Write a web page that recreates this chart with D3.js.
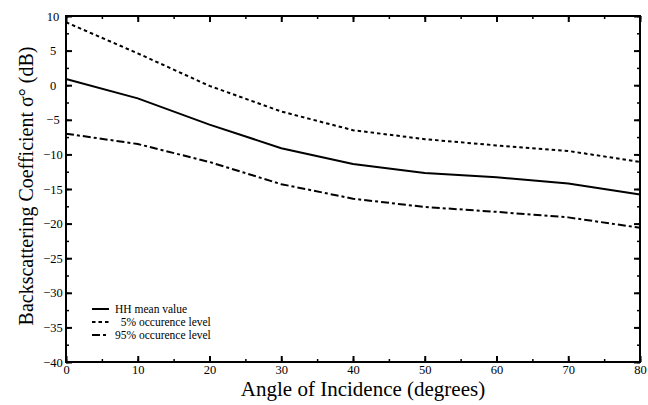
<!DOCTYPE html>
<html>
<head>
<meta charset="utf-8">
<script src="https://cdn.jsdelivr.net/npm/d3@7"></script>
<style>
  body { margin: 0; background: white; }
  svg text { font-family: "Liberation Serif", "Times New Roman", serif; }
</style>
</head>
<body>
<svg id="svg" width="648" height="405"></svg>
<script>
// angle of incidence (degrees)
const angles = [0, 10, 20, 30, 40, 50, 60, 70, 80];
// HH mean value (dB)
const meanValues = [0.9, -1.9, -5.7, -9.1, -11.4, -12.7, -13.3, -14.2, -15.8];
// 5% occurence level
const level5 = [9.1, 4.6, -0.1, -3.8, -6.5, -7.8, -8.7, -9.5, -11.1];
// 95% occurence level
const level95 = [-7.0, -8.5, -11.1, -14.3, -16.4, -17.6, -18.3, -19.1, -20.6];

const xTicks = [0, 10, 20, 30, 40, 50, 60, 70, 80];
const yTicks = [10, 5, 0, -5, -10, -15, -20, -25, -30, -35, -40];

const series = [
  { name: "HH mean value", values: meanValues, dash: null },
  { name: "\u00a0\u00a05% occurence level", values: level5, dash: "3.5,3" },
  { name: "95% occurence level", values: level95, dash: "8,3,3,3" },
];

const margin = { left: 66, right: 8, top: 16, bottom: 43 };
const W = 648, H = 405;
const svg = d3.select("#svg");

const x = d3.scaleLinear().domain([0, 80]).range([margin.left, W - margin.right]);
const y = d3.scaleLinear().domain([-40, 10]).range([H - margin.bottom, margin.top]);

const g = svg.append("g");

// 目盛り（内向き）
const minorX = d3.range(0, 81, 5);
const minorY = d3.range(-40, 10.1, 2.5);

// 下の軸
g.append("g")
  .attr("transform", `translate(0,${y(-40)})`)
  .call(d3.axisBottom(x).tickValues(minorX).tickSize(-3).tickFormat(""))
  .call(a => a.select(".domain").remove())
  .selectAll("line").attr("stroke-width", 1.5);
g.append("g")
  .attr("transform", `translate(0,${y(-40)})`)
  .call(d3.axisBottom(x).tickValues(xTicks).tickSize(-6).tickPadding(3))
  .call(a => a.select(".domain").remove())
  .call(a => a.selectAll("line").attr("stroke-width", 2))
  .call(a => a.selectAll("text").attr("font-size", 12.5).attr("fill", "black"));

// 上の軸
g.append("g")
  .attr("transform", `translate(0,${y(10)})`)
  .call(d3.axisTop(x).tickValues(minorX).tickSize(-3).tickFormat(""))
  .call(a => a.select(".domain").remove())
  .selectAll("line").attr("stroke-width", 1.5);
g.append("g")
  .attr("transform", `translate(0,${y(10)})`)
  .call(d3.axisTop(x).tickValues(xTicks).tickSize(-6).tickFormat(""))
  .call(a => a.select(".domain").remove())
  .selectAll("line").attr("stroke-width", 2);

// 左の軸
g.append("g")
  .attr("transform", `translate(${x(0)},0)`)
  .call(d3.axisLeft(y).tickValues(minorY).tickSize(-3).tickFormat(""))
  .call(a => a.select(".domain").remove())
  .selectAll("line").attr("stroke-width", 1.5);
g.append("g")
  .attr("transform", `translate(${x(0)},0)`)
  .call(d3.axisLeft(y).tickValues(yTicks).tickSize(-6).tickPadding(14))
  .call(a => a.select(".domain").remove())
  .call(a => a.selectAll("line").attr("stroke-width", 2))
  .call(a => a.selectAll("text").attr("font-size", 12.5).attr("fill", "black")
    .attr("text-anchor", "middle").attr("x", -13));

// 右の軸
g.append("g")
  .attr("transform", `translate(${x(80)},0)`)
  .call(d3.axisRight(y).tickValues(minorY).tickSize(-3).tickFormat(""))
  .call(a => a.select(".domain").remove())
  .selectAll("line").attr("stroke-width", 1.5);
g.append("g")
  .attr("transform", `translate(${x(80)},0)`)
  .call(d3.axisRight(y).tickValues(yTicks).tickSize(-6).tickFormat(""))
  .call(a => a.select(".domain").remove())
  .selectAll("line").attr("stroke-width", 2);

// 枠
g.append("rect")
  .attr("x", x(0)).attr("y", y(10))
  .attr("width", x(80) - x(0)).attr("height", y(-40) - y(10))
  .attr("fill", "none").attr("stroke", "black").attr("stroke-width", 2);

// 線
const line = d3.line()
  .x((d, i) => x(angles[i]))
  .y(d => y(d));

series.forEach(s => {
  g.append("path")
    .datum(s.values)
    .attr("d", line)
    .attr("fill", "none")
    .attr("stroke", "black")
    .attr("stroke-width", 2)
    .attr("stroke-dasharray", s.dash);
});

// 凡例
const legend = g.append("g").attr("transform", "translate(92,309)");
series.forEach((s, i) => {
  const row = legend.append("g").attr("transform", `translate(0,${i * 13})`);
  row.append("line")
    .attr("x1", 0).attr("x2", 17)
    .attr("stroke", "black").attr("stroke-width", 2)
    .attr("stroke-dasharray", s.dash);
  row.append("text")
    .attr("x", 23).attr("y", 4)
    .attr("font-size", 11.5)
    .attr("xml:space", "preserve")
    .text(s.name);
});

// 軸ラベル
svg.append("text")
  .attr("x", 363)
  .attr("y", 396)
  .attr("text-anchor", "middle")
  .attr("font-size", 21)
  .text("Angle of Incidence (degrees)");

svg.append("text")
  .attr("transform", "translate(33,186) rotate(-90)")
  .attr("text-anchor", "middle")
  .attr("font-size", 20)
  .text("Backscattering Coefficient \u03c3\u00b0 (dB)");
</script>
</body>
</html>
